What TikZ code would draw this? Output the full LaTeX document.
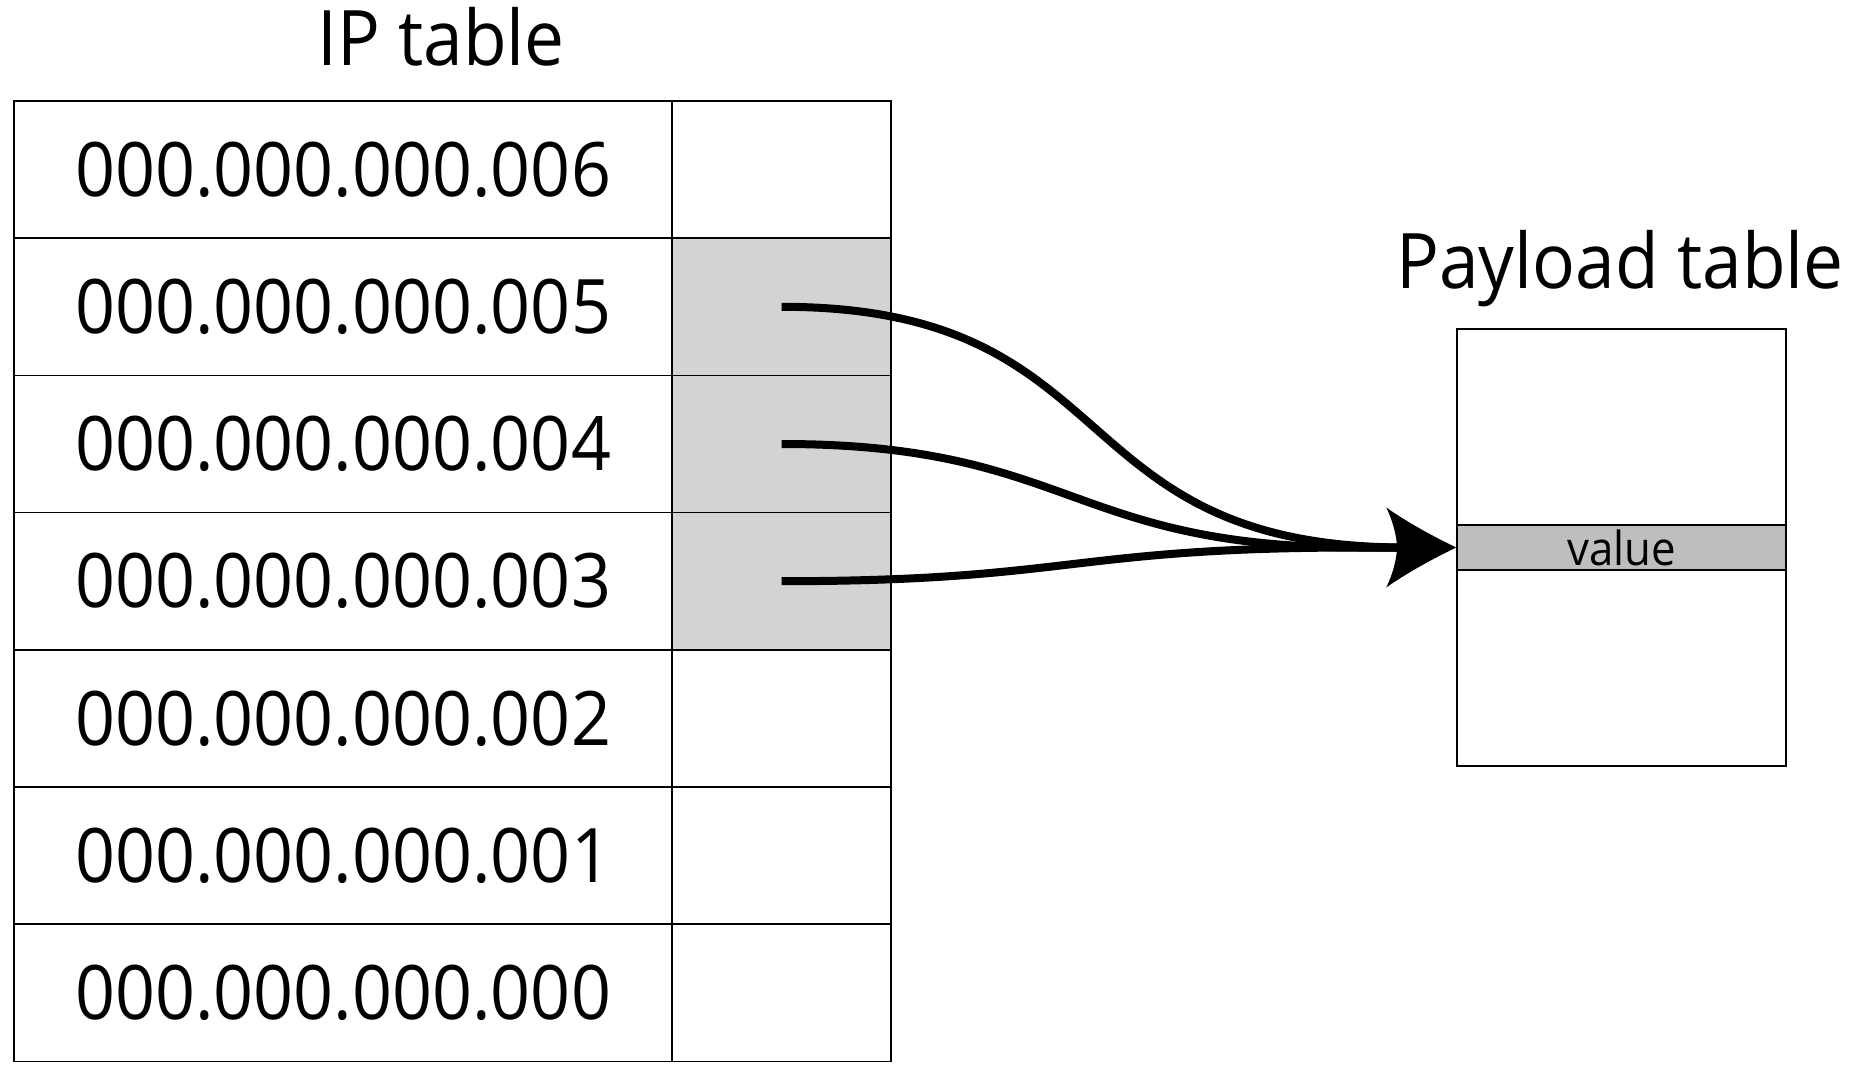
\documentclass[tikz,border=0pt]{standalone}
\usepackage{fontspec}
\setmainfont[FakeStretch=0.93]{Open Sans}
\definecolor{cellgray}{HTML}{D1D3D4}
\definecolor{valgray}{HTML}{BCBEC0}
\begin{document}
\begin{tikzpicture}[x=0.5pt,y=-0.5pt,
  tbl/.style={draw, line width=0.8pt, inner sep=0pt, minimum height=68.6pt},
  ipcell/.style={tbl, minimum width=329pt, font=\fontsize{37.6pt}{40pt}\selectfont},
  ptrcell/.style={tbl, minimum width=109.5pt},
  title/.style={anchor=base, inner sep=0pt, font=\fontsize{38.3pt}{40pt}\selectfont},
  conn/.style={line width=4pt}]
\fill[white] (0,0) rectangle (1871,1079);
\useasboundingbox (0,0) rectangle (1871,1079);

\node[title] (iptitle) at (441,66) {IP table};
\node[title] (pltitle) at (1620,289) {Payload table};

% IP table
\node[ipcell] (ip6) at (343,169.6) {000.000.000.006};
\node[ipcell] (ip5) at (343,306.8) {000.000.000.005};
\node[ipcell] (ip4) at (343,444.0) {000.000.000.004};
\node[ipcell] (ip3) at (343,581.2) {000.000.000.003};
\node[ipcell] (ip2) at (343,718.4) {000.000.000.002};
\node[ipcell] (ip1) at (343,855.6) {000.000.000.001};
\node[ipcell] (ip0) at (343,992.8) {000.000.000.000};
\node[ptrcell] (p6) at (781.5,169.6) {};
\node[ptrcell, fill=cellgray] (p5) at (781.5,306.8) {};
\node[ptrcell, fill=cellgray] (p4) at (781.5,444.0) {};
\node[ptrcell, fill=cellgray] (p3) at (781.5,581.2) {};
\node[ptrcell] (p2) at (781.5,718.4) {};
\node[ptrcell] (p1) at (781.5,855.6) {};
\node[ptrcell] (p0) at (781.5,992.8) {};

% Payload table
\node[draw, line width=0.8pt, inner sep=0pt, minimum width=164.5pt, minimum height=218.5pt] (payload) at (1621.5,547.5) {};
\node[draw, fill=valgray, line width=0.8pt, inner sep=0pt, minimum width=164.5pt, minimum height=22.5pt,
  font=\fontsize{23.5pt}{25pt}\selectfont] (val) at (1621.5,547.5) {value};

% connectors
\draw[conn] (p5.center) .. controls +(350,0) and +(-350,0) .. ([xshift=-25pt]val.west);
\draw[conn] (p4.center) .. controls +(290,0) and +(-290,0) .. ([xshift=-48.5pt]val.west) -- ([xshift=-25pt]val.west);
\draw[conn] (p3.center) .. controls +(290,0) and +(-290,0) .. ([xshift=-48.5pt]val.west) -- ([xshift=-25pt]val.west);
\begin{scope}[shift={(val.west)}]
\fill (0,0) .. controls (-25,-12) and (-50,-26) .. (-70,-40)
  .. controls (-64,-28) and (-60,-14) .. (-59,0)
  .. controls (-60,14) and (-64,28) .. (-70,40)
  .. controls (-50,26) and (-25,12) .. (0,0) -- cycle;
\end{scope}
\end{tikzpicture}
\end{document}
